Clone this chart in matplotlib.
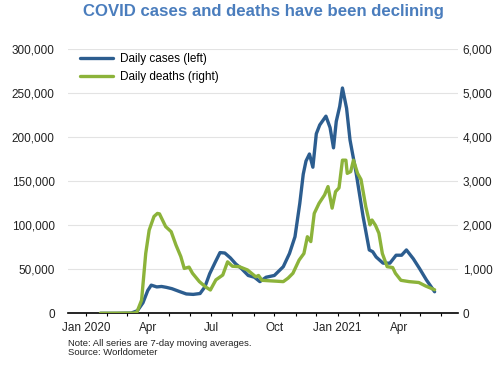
import pandas as pd
import matplotlib
matplotlib.use("Agg")
import matplotlib.pyplot as plt
import matplotlib.dates as mdates
from matplotlib.ticker import FuncFormatter, MultipleLocator

plt.rcParams['font.family'] = ['Liberation Sans', 'DejaVu Sans']

# 7-day averages
case_dates = ['2020-01-22', '2020-02-15', '2020-03-07', '2020-03-16', '2020-03-24', '2020-03-31',
              '2020-04-05', '2020-04-13', '2020-04-20', '2020-04-27', '2020-05-05', '2020-05-17',
              '2020-05-26', '2020-06-05', '2020-06-15', '2020-06-22', '2020-06-29', '2020-07-07',
              '2020-07-14', '2020-07-21', '2020-07-29', '2020-08-06', '2020-08-14', '2020-08-24',
              '2020-09-02', '2020-09-10', '2020-09-19', '2020-10-01', '2020-10-14', '2020-10-23',
              '2020-10-31', '2020-11-07', '2020-11-12', '2020-11-16', '2020-11-21', '2020-11-26',
              '2020-12-01', '2020-12-06', '2020-12-15', '2020-12-21', '2020-12-26', '2020-12-30',
              '2021-01-04', '2021-01-08', '2021-01-14', '2021-01-19', '2021-01-28', '2021-02-07',
              '2021-02-16', '2021-02-21', '2021-02-26', '2021-03-08', '2021-03-18', '2021-03-27',
              '2021-04-04', '2021-04-11', '2021-04-21', '2021-04-30', '2021-05-10', '2021-05-22']
cases = [0, 0, 300, 3000, 12000, 26000,
         32000, 30000, 30500, 29500, 28000, 24500,
         22000, 21500, 22500, 30000, 45000, 58000,
         69000, 68500, 63000, 56000, 51000, 43000,
         41000, 36000, 41000, 43000, 53000, 68000,
         87000, 125000, 158000, 173000, 181000, 166000,
         204000, 214000, 224000, 211000, 188000, 218000,
         235000, 256000, 233000, 197000, 159000, 110000,
         72000, 70000, 64000, 57000, 57000, 66000,
         66000, 72000, 62000, 51000, 38000, 24500]

death_dates = ['2020-01-22', '2020-03-10', '2020-03-15', '2020-03-22', '2020-03-28', '2020-04-02',
               '2020-04-09', '2020-04-14', '2020-04-17', '2020-04-26', '2020-05-04', '2020-05-11',
               '2020-05-18', '2020-05-23', '2020-05-30', '2020-06-04', '2020-06-14', '2020-06-23',
               '2020-06-30', '2020-07-08', '2020-07-18', '2020-07-25', '2020-08-01', '2020-08-11',
               '2020-08-23', '2020-09-04', '2020-09-08', '2020-09-13', '2020-09-23', '2020-10-04',
               '2020-10-14', '2020-10-21', '2020-10-28', '2020-11-06', '2020-11-13', '2020-11-18',
               '2020-11-23', '2020-11-28', '2020-12-05', '2020-12-13', '2020-12-18', '2020-12-24',
               '2020-12-29', '2021-01-03', '2021-01-08', '2021-01-13', '2021-01-15', '2021-01-20',
               '2021-01-24', '2021-01-30', '2021-02-04', '2021-02-11', '2021-02-17', '2021-02-20',
               '2021-02-25', '2021-03-02', '2021-03-07', '2021-03-14', '2021-03-22', '2021-03-26',
               '2021-04-03', '2021-04-15', '2021-04-29', '2021-05-09', '2021-05-22']
deaths = [0, 5, 20, 300, 1360, 1890,
          2200, 2270, 2260, 1970, 1855, 1550,
          1290, 1020, 1050, 910, 720, 600,
          530, 760, 870, 1170, 1070, 1060,
          985, 830, 860, 750, 740, 730,
          720, 800, 910, 1210, 1360, 1740,
          1630, 2270, 2500, 2690, 2880, 2390,
          2765, 2850, 3480, 3480, 3180, 3220,
          3480, 3180, 3040, 2420, 2010, 2120,
          2000, 1820, 1360, 1060, 1040, 910,
          750, 720, 700, 620, 535]

BLUE = '#2c5d8f'
GREEN = '#8cb33a'
TXT = '#222222'

fig = plt.figure(figsize=(5, 3.65), dpi=100)
ax = fig.add_axes([0.136, 0.1416, 0.78, 0.7234])
ax2 = ax.twinx()

l1, = ax.plot(pd.to_datetime(case_dates), cases, color=BLUE, lw=2.4, solid_capstyle='round',
              solid_joinstyle='round')
l2, = ax2.plot(pd.to_datetime(death_dates), deaths, color=GREEN, lw=2.4, solid_capstyle='round',
               solid_joinstyle='round')

ax.set_ylim(0, 300000)
ax2.set_ylim(0, 6000)
ax.set_xlim(pd.Timestamp('2019-12-06'), pd.Timestamp('2021-06-25'))

ax.yaxis.set_major_locator(MultipleLocator(50000))
ax2.yaxis.set_major_locator(MultipleLocator(1000))
ax.yaxis.set_major_formatter(FuncFormatter(lambda v, p: f'{int(v):,}'))
ax2.yaxis.set_major_formatter(FuncFormatter(lambda v, p: f'{int(v):,}'))
ax.yaxis.grid(True, color='#e3e3e3', lw=0.8)
ax.set_axisbelow(True)


def month_label(v, pos):
    d = mdates.num2date(v)
    if d.month == 1:
        return f'Jan {d.year}'
    if d.month in (4, 7, 10):
        return d.strftime('%b')
    return ''


ax.xaxis.set_major_locator(mdates.MonthLocator())
ax.xaxis.set_major_formatter(FuncFormatter(month_label))

for a in (ax, ax2):
    for s in ('top', 'left', 'right', 'bottom'):
        a.spines[s].set_visible(False)
ax.spines['bottom'].set_visible(True)
ax.spines['bottom'].set_linewidth(1.2)
ax.spines['bottom'].set_color('black')

ax.tick_params(axis='x', length=2.5, width=0.8, color='black', pad=4, labelsize=8.5, labelcolor=TXT)
ax.tick_params(axis='y', length=0, pad=9.5, labelsize=8.5, labelcolor=TXT)
ax2.tick_params(axis='y', length=0, pad=3.5, labelsize=8.5, labelcolor=TXT)

ax.legend([l1, l2], ['Daily cases (left)', 'Daily deaths (right)'], loc='upper left',
          bbox_to_anchor=(0.031, 0.985), frameon=False, fontsize=8.5, handlelength=2.8,
          handletextpad=0.6, labelspacing=0.5, borderpad=0, borderaxespad=0)

fig.text(0.526, 0.968, 'COVID cases and deaths have been declining', ha='center', va='center',
         fontsize=12.1, fontweight='bold', color='#4a7dbd')
fig.text(0.136, 0.06, 'Note: All series are 7-day moving averages.', fontsize=6.8, color=TXT, va='center')
fig.text(0.136, 0.033, 'Source: Worldometer', fontsize=6.8, color=TXT, va='center')

fig.savefig('out.png', dpi=100)
